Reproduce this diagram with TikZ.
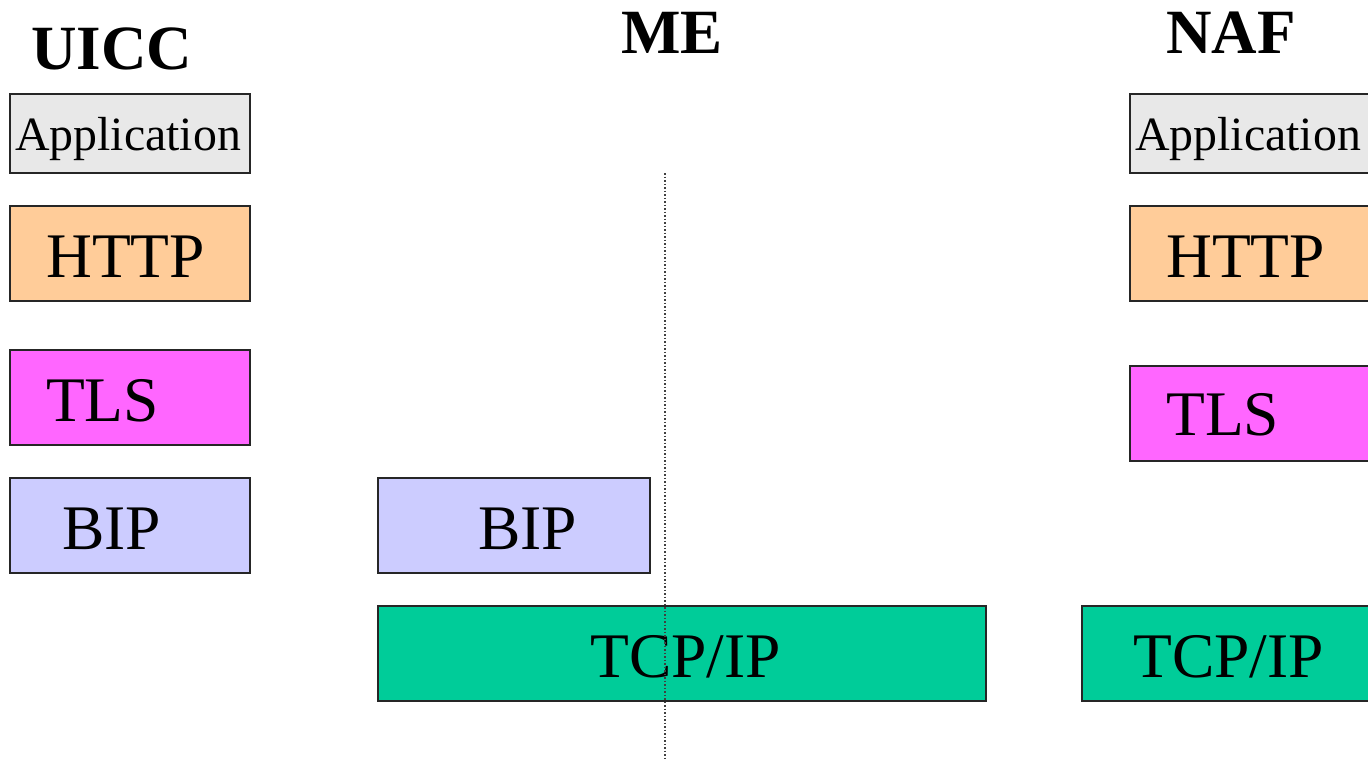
\documentclass[tikz,border=0pt]{standalone}
\usepackage{fontspec}
\setmainfont{Liberation Serif}
\definecolor{appgray}{HTML}{E8E8E8}
\definecolor{httporange}{HTML}{FFCC99}
\definecolor{tlspink}{HTML}{FF66FF}
\definecolor{biplilac}{HTML}{CCCCFF}
\definecolor{tcpgreen}{HTML}{00CC99}
\tikzset{
  layer/.style={draw=black!85, line width=1.5pt, rectangle, inner sep=0pt},
  lbl/.style={anchor=base west, inner sep=0pt, font=\fontsize{63.5}{70}\selectfont},
  applbl/.style={anchor=base west, inner sep=0pt, font=\fontsize{47.8}{56}\selectfont},
  title/.style={anchor=base, inner sep=0pt, font=\fontsize{63}{70}\selectfont\bfseries},
  divider/.style={draw=black!75, line width=1.2pt, dash pattern=on 1.5pt off 2pt}
}
\begin{document}
\begin{tikzpicture}[x=1pt,y=-1pt]
\useasboundingbox (0,0) rectangle (1368,761);
\clip (0,0) rectangle (1368,761);

% column headings
\node[title] (tuicc) at (112,69) {UICC};
\node[title] (tme)   at (672,53) {ME};
\node[title] (tnaf)  at (1231,53) {NAF};

% UICC stack
\node[layer, fill=appgray,    minimum width=240, minimum height=79] (uapp)  at (130,133.5) {};
\node[layer, fill=httporange, minimum width=240, minimum height=95] (uhttp) at (130,253.5) {};
\node[layer, fill=tlspink,    minimum width=240, minimum height=95] (utls)  at (130,397.5) {};
\node[layer, fill=biplilac,   minimum width=240, minimum height=95] (ubip)  at (130,525.5) {};
\node[applbl] (uappt)  at (15,150) {Application};
\node[lbl]    (uhttpt) at (46,277) {HTTP};
\node[lbl]    (utlst)  at (46,421) {TLS};
\node[lbl]    (ubipt)  at (62,549) {BIP};

% ME stack
\node[layer, fill=biplilac, minimum width=272, minimum height=95] (mbip) at (514,525.5) {};
\node[layer, fill=tcpgreen, minimum width=608, minimum height=95] (mtcp) at (682,653.5) {};
\node[lbl] (mbipt) at (478,549) {BIP};
\node[lbl] (mtcpt) at (590,677) {TCP/IP};

% NAF stack (running off the right edge)
\node[layer, fill=appgray,    minimum width=260, minimum height=79] (napp)  at (1260,133.5) {};
\node[layer, fill=httporange, minimum width=260, minimum height=95] (nhttp) at (1260,253.5) {};
\node[layer, fill=tlspink,    minimum width=260, minimum height=95] (ntls)  at (1260,413.5) {};
\node[layer, fill=tcpgreen,   minimum width=308, minimum height=95] (ntcp)  at (1236,653.5) {};
\node[applbl] (nappt)  at (1135,150) {Application};
\node[lbl]    (nhttpt) at (1166,277) {HTTP};
\node[lbl]    (ntlst)  at (1166,435) {TLS};
\node[lbl]    (ntcpt)  at (1133,677) {TCP/IP};

% boundary inside the ME
\coordinate (dtop) at (665,173);
\coordinate (dbot) at (665,758);
\draw[divider] (dtop) -- (dbot);
\end{tikzpicture}
\end{document}
